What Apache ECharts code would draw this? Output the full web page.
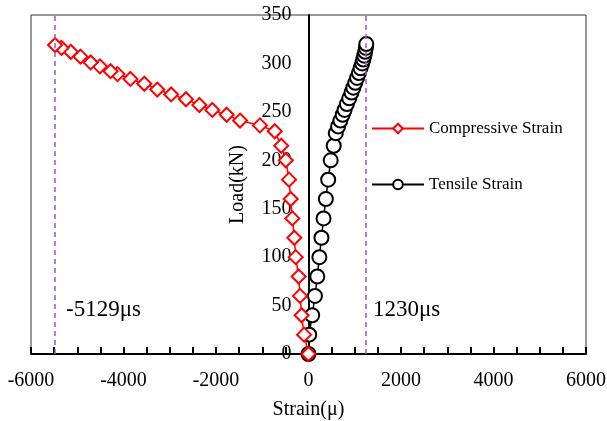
<!DOCTYPE html>
<html>
<head>
<meta charset="utf-8">
<script src="https://cdn.jsdelivr.net/npm/echarts@6/dist/echarts.min.js"></script>
<style>
    html, body { margin: 0; padding: 0; background: #fff; }
    #chart { width: 607px; height: 421px; }
</style>
</head>
<body>
<div id="chart"></div>
<script>
// load steps (kN) and strain readings (micro-strain)
const compLoad = [0, 20, 40, 60, 80, 100, 120, 140, 160, 180, 200, 215, 230, 236, 241, 247, 252, 257, 263, 268, 273, 279, 284, 289, 292, 297, 301, 307, 312, 316, 319];
const compStrain = [0, -96, -148, -184, -212, -277, -307, -350, -385, -421, -490, -590, -730, -1050, -1480, -1770, -2080, -2360, -2650, -2970, -3270, -3550, -3850, -4130, -4280, -4510, -4710, -4930, -5140, -5340, -5480];

const tensLoad = [0, 20, 40, 60, 80, 100, 120, 140, 160, 180, 200, 215, 228, 235, 241, 247, 252, 258, 264, 270, 275, 280, 285, 290, 295, 300, 304, 308, 312, 316, 320];
const tensStrain = [0, 15, 80, 140, 190, 235, 280, 325, 375, 425, 480, 545, 590, 640, 690, 740, 780, 830, 880, 930, 970, 1010, 1050, 1090, 1125, 1160, 1185, 1205, 1225, 1240, 1250];

const limitLines = [-5480, 1240];
const limitLabels = ["-5129\u03bcs", "1230\u03bcs"];

const font = "'Liberation Serif', 'Times New Roman', serif";
const purple = "#8f5fd0";

const gridLeft = 31;
const gridRight = 21;
const chartWidth = 607;
// y axis sits on strain = 0, the middle of a symmetric x range
const yOffset = -(chartWidth - gridLeft - gridRight) / 2;

const chart = echarts.init(document.getElementById("chart"), null, { renderer: "canvas" });

const dashLine = (x) => ({
    silent: true,
    symbol: "none",
    label: { show: false },
    lineStyle: { color: purple, type: [5, 4], width: 1.5 },
    data: [{ xAxis: x }],
});

chart.setOption({
    animation: false,
    grid: {
        left: gridLeft,
        right: gridRight,
        top: 15,
        bottom: 67,
        containLabel: false,
        outerBoundsMode: "none",
        show: true,
        borderColor: "#333",
        borderWidth: 1,
    },
    legend: {
        orient: "vertical",
        left: 366,
        top: 115,
        itemWidth: 52,
        itemHeight: 12,
        itemGap: 39,
        textStyle: { fontFamily: font, fontSize: 17, color: "#000" },
        data: ["Compressive Strain", "Tensile Strain"],
    },
    xAxis: {
        type: "value",
        min: -6000,
        max: 6000,
        interval: 2000,
        name: "Strain(\u03bc)",
        nameLocation: "middle",
        nameGap: 46,
        nameTextStyle: { fontFamily: font, fontSize: 20, color: "#000" },
        axisLine: { onZero: false, lineStyle: { color: "#000", width: 2 } },
        axisTick: { show: true, inside: true, length: 7, lineStyle: { color: "#000", width: 2 } },
        minorTick: { show: true, splitNumber: 4, length: 7, lineStyle: { color: "#000", width: 2 } },
        axisLabel: { fontFamily: font, fontSize: 20, color: "#000", margin: 17, formatter: (v) => String(v) },
        splitLine: { show: false },
    },
    yAxis: {
        type: "value",
        min: 0,
        max: 350,
        interval: 50,
        position: "left",
        offset: yOffset,
        name: "Load(kN)",
        nameLocation: "middle",
        nameGap: 61,
        nameTextStyle: { fontFamily: font, fontSize: 20, color: "#000" },
        axisLine: { onZero: false, lineStyle: { color: "#000", width: 2 } },
        axisTick: { show: false },
        axisLabel: { fontFamily: font, fontSize: 20, color: "#000", margin: 17 },
        splitLine: { show: false },
    },
    graphic: [
        { type: "text", left: 66, top: 298, style: { text: limitLabels[0], font: "23px " + font, fill: "#000" } },
        { type: "text", left: 373, top: 298, style: { text: limitLabels[1], font: "23px " + font, fill: "#000" } },
    ],
    series: [
        {
            name: "Compressive Strain",
            type: "line",
            z: 3,
            data: compStrain.map((s, i) => [s, compLoad[i]]),
            symbol: "emptyDiamond",
            symbolSize: 14,
            color: "#ff0000",
            lineStyle: { color: "#ff0000", width: 1.5 },
            itemStyle: { color: "#ff0000", borderWidth: 1.3 },
            markLine: dashLine(limitLines[0]),
        },
        {
            name: "Tensile Strain",
            type: "line",
            z: 2,
            data: tensStrain.map((s, i) => [s, tensLoad[i]]),
            symbol: "emptyCircle",
            symbolSize: 14,
            color: "#000",
            lineStyle: { color: "#000", width: 1.5 },
            itemStyle: { color: "#000", borderWidth: 1.3 },
            markLine: dashLine(limitLines[1]),
        },
    ],
});
</script>
</body>
</html>
